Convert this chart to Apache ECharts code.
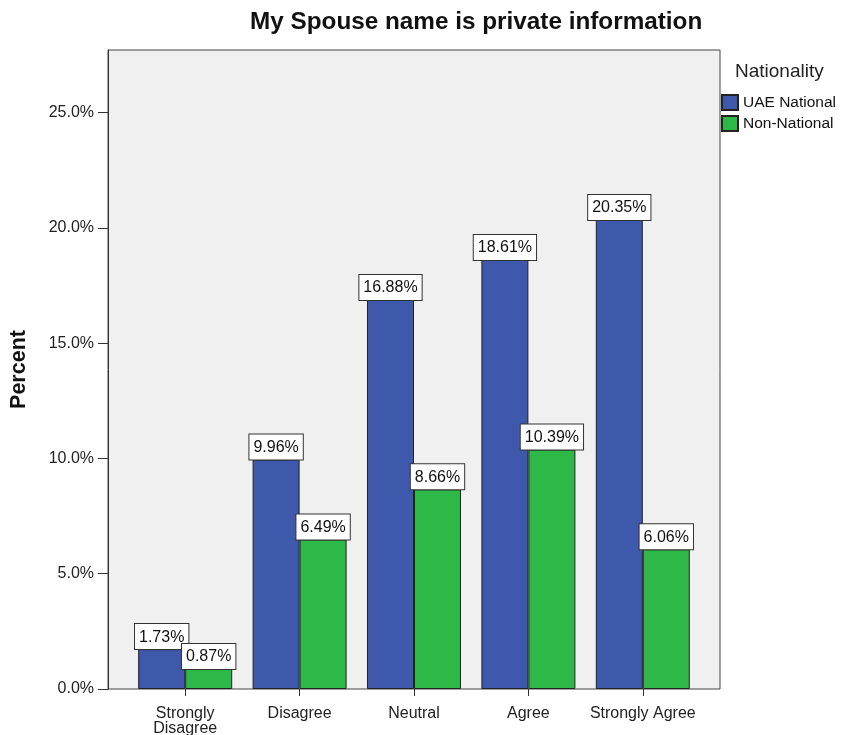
<!DOCTYPE html>
<html>
<head>
<meta charset="utf-8">
<script src="https://cdn.jsdelivr.net/npm/echarts@6/dist/echarts.min.js"></script>
<style>
  html, body { margin: 0; padding: 0; background: #fff; }
  #chart { width: 842px; height: 735px; }
</style>
</head>
<body>
<div id="chart"></div>
<script>
// Response categories along the x axis
const categories = ['Strongly\nDisagree', 'Disagree', 'Neutral', 'Agree', 'Strongly Agree'];
// Percent of respondents per nationality group
const uaeNational = [1.73, 9.96, 16.88, 18.61, 20.35];
const nonNational = [0.87, 6.49, 8.66, 10.39, 6.06];
// Labelled y axis values
const yTicks = [0, 5, 10, 15, 20, 25];

const FONT = '"Liberation Sans", Arial, sans-serif';
const chart = echarts.init(document.getElementById('chart'), null, { renderer: 'canvas' });

const labelStyle = {
  show: true,
  position: 'top',
  distance: 0,
  formatter: p => p.value.toFixed(2) + '%',
  fontFamily: FONT,
  fontSize: 16,
  color: '#111',
  backgroundColor: '#fff',
  borderColor: '#333',
  borderWidth: 1,
  padding: [5, 4, 4, 4]
};

chart.setOption({
  animation: false,
  textStyle: { fontFamily: FONT },
  title: {
    text: 'My Spouse name is private information',
    left: 245,
    top: 5,
    textStyle: { fontFamily: FONT, fontSize: 24.3, fontWeight: 'bold', color: '#111' }
  },
  graphic: [{
    type: 'text',
    left: 735,
    top: 62,
    style: { text: 'Nationality', font: '19px ' + FONT, fill: '#222' }
  }],
  legend: {
    orient: 'vertical',
    left: 721,
    top: 94,
    padding: 0,
    itemWidth: 16,
    itemHeight: 15,
    itemGap: 4,
    icon: 'rect',
    textStyle: { fontFamily: FONT, fontSize: 15.5, color: '#111' },
    data: ['UAE National', 'Non-National']
  },
  grid: [
    // Outer plot frame with shaded background
    { left: 108, right: 122, top: 50, bottom: 46, show: true, backgroundColor: '#f0f0f0',
      borderColor: '#444', borderWidth: 1, z: 0, outerBoundsMode: 'none', containLabel: false },
    // Inner grid holding the bars, inset from the frame
    { left: 128, right: 142, top: 50, bottom: 46, outerBoundsMode: 'none', containLabel: false }
  ],
  xAxis: [
    { gridIndex: 0, type: 'value', show: false, min: 0, max: 1 },
    {
      gridIndex: 1,
      type: 'category',
      data: categories,
      axisLine: { show: false },
      axisTick: { show: true, alignWithLabel: true, length: 7, lineStyle: { color: '#333' } },
      axisLabel: { fontFamily: FONT, fontSize: 16, lineHeight: 15, color: '#222', margin: 17, interval: 0 }
    }
  ],
  yAxis: [
    { gridIndex: 0, type: 'value', show: false, min: 0, max: 1 },
    {
      gridIndex: 1,
      type: 'value',
      min: 0,
      max: 27.72,
      interval: 5,
      offset: 20,
      splitLine: { show: false },
      axisLine: { show: true, lineStyle: { color: '#333' } },
      axisTick: { show: true, length: 10, lineStyle: { color: '#333' }, customValues: yTicks },
      axisLabel: {
        fontFamily: FONT, fontSize: 16, color: '#222', margin: 14,
        customValues: yTicks,
        formatter: v => v.toFixed(1) + '%'
      },
      name: 'Percent',
      nameLocation: 'middle',
      nameGap: 78,
      nameTextStyle: { fontFamily: FONT, fontSize: 21.5, fontWeight: 'bold', color: '#111' }
    }
  ],
  series: [
    {
      name: 'UAE National',
      type: 'bar',
      xAxisIndex: 1,
      yAxisIndex: 1,
      data: uaeNational,
      barWidth: 47,
      barGap: '0%',
      itemStyle: { color: '#3E58AC', borderColor: '#222', borderWidth: 1 },
      label: labelStyle
    },
    {
      name: 'Non-National',
      type: 'bar',
      xAxisIndex: 1,
      yAxisIndex: 1,
      data: nonNational,
      barWidth: 47,
      barGap: '0%',
      itemStyle: { color: '#2EB848', borderColor: '#222', borderWidth: 1 },
      label: labelStyle
    }
  ]
});
</script>
</body>
</html>
